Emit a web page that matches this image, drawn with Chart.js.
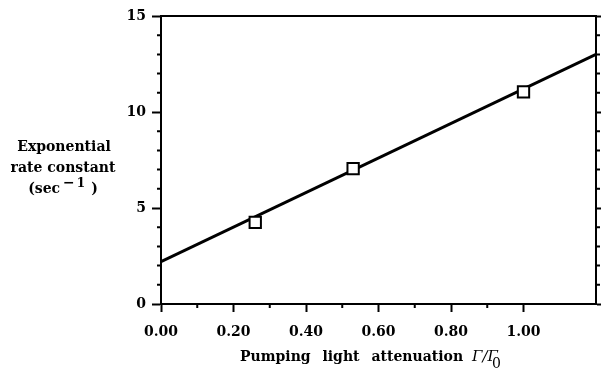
<!DOCTYPE html>
<html>
<head>
<meta charset="utf-8">
<script src="https://cdn.jsdelivr.net/npm/chart.js@4.4.1/dist/chart.umd.min.js"></script>
<style>
  html, body { margin: 0; padding: 0; background: #fff; }
</style>
</head>
<body>
<canvas id="myChart" width="606" height="369"></canvas>
<script>
// measured points
const attenuation = [0.26, 0.53, 1.00];
const rateConst = [4.25, 7.05, 11.05];
// fitted straight line, read at both ends of the plot
const fitX = [0, 1.2];
const fitY = [2.2, 13.0];
// tick labels
const xLabels = ['0.00', '0.20', '0.40', '0.60', '0.80', '1.00'];
const yLabels = ['0', '5', '10', '15'];

const serif = '"DejaVu Serif", serif';
const tickFont = { family: serif, size: 14, weight: 'bold' };

function xMajor(v) { return Math.round(v * 10) % 2 === 0; }
function yMajor(v) { return Math.round(v) % 5 === 0; }

// short ticks between the labelled ones
const minorTicks = {
  id: 'minorTicks',
  afterDraw(chart) {
    const ctx = chart.ctx;
    const a = chart.chartArea;
    ctx.save();
    ctx.strokeStyle = '#000';
    ctx.lineWidth = 2;
    ctx.beginPath();
    chart.scales.x.ticks.forEach(t => {
      if (xMajor(t.value)) return;
      const px = chart.scales.x.getPixelForValue(t.value);
      ctx.moveTo(px, a.bottom); ctx.lineTo(px, a.bottom + 4);
    });
    chart.scales.y.ticks.forEach(t => {
      if (yMajor(t.value)) return;
      const py = chart.scales.y.getPixelForValue(t.value);
      ctx.moveTo(a.left, py); ctx.lineTo(a.left - 4, py);
      ctx.moveTo(a.right, py); ctx.lineTo(a.right + 4, py);
    });
    ctx.stroke();
    ctx.restore();
  }
};

// axis titles, set horizontally as in the figure
const axisText = {
  id: 'axisText',
  afterDraw(chart) {
    const c = chart.ctx;
    c.save();
    c.fillStyle = '#000';
    c.textBaseline = 'alphabetic';
    c.font = 'bold 14px ' + serif;
    c.textAlign = 'center';
    c.fillText('Exponential', 64, 151);
    c.fillText('rate constant', 63, 172);

    // (sec -1 ) with raised exponent
    c.textAlign = 'left';
    const big = 'bold 14px ' + serif, small = 'bold 12px ' + serif;
    c.font = big;
    const w1 = c.measureText('(sec').width;
    const w2 = c.measureText('\u2212').width;
    const w4 = c.measureText(')').width;
    c.font = small;
    const w3 = c.measureText('1').width;
    let x = 63 - (w1 + 3 + w2 + 2 + w3 + 6 + w4) / 2;
    c.font = big;
    c.fillText('(sec', x, 193); x += w1 + 3;
    c.fillText('\u2212', x, 187); x += w2 + 2;
    c.font = small;
    c.fillText('1', x, 187); x += w3 + 6;
    c.font = big;
    c.fillText(')', x, 193);

    c.font = 'bold 14px ' + serif;
    c.wordSpacing = '7px';
    c.fillText('Pumping light attenuation', 240, 361);
    c.wordSpacing = '0px';
    c.font = 'italic 15px ' + serif;
    c.fillText('\u0393/\u0393', 472, 361);
    c.font = '14px ' + serif;
    c.fillText('0', 492, 368);
    c.restore();
  }
};

new Chart(document.getElementById('myChart'), {
  type: 'scatter',
  data: {
    datasets: [
      {
        label: 'measured',
        data: attenuation.map((x, i) => ({ x: x, y: rateConst[i] })),
        pointStyle: 'rect',
        pointRadius: 8,
        borderWidth: 2,
        borderColor: '#000',
        backgroundColor: '#fff'
      },
      {
        label: 'fit',
        data: fitX.map((x, i) => ({ x: x, y: fitY[i] })),
        showLine: true,
        pointRadius: 0,
        borderWidth: 3,
        borderColor: '#000'
      }
    ]
  },
  options: {
    responsive: false,
    animation: false,
    events: [],
    layout: { padding: 0 },
    plugins: { legend: { display: false }, tooltip: { enabled: false } },
    scales: {
      x: {
        type: 'linear', position: 'bottom', min: 0, max: 1.2,
        afterBuildTicks: s => { s.ticks = s.ticks.filter(t => t.value <= 1.0001); },
        afterFit: s => { s.height = 65; },
        ticks: {
          stepSize: 0.1, autoSkip: false, maxRotation: 0, padding: 12,
          color: '#000', font: tickFont,
          callback: v => xMajor(v) ? xLabels[Math.round(v * 5)] : ''
        },
        grid: {
          drawOnChartArea: false, tickLength: 8, tickWidth: 2,
          tickColor: c => (c.tick && xMajor(c.tick.value)) ? '#000' : 'rgba(0,0,0,0)'
        },
        border: { color: '#000', width: 2 }
      },
      x2: {
        type: 'linear', position: 'top', min: 0, max: 1.2,
        afterFit: s => { s.height = 16; },
        ticks: { display: false },
        grid: { display: false },
        border: { color: '#000', width: 2 }
      },
      y: {
        type: 'linear', position: 'left', min: 0, max: 15,
        afterFit: s => { s.width = 161; },
        ticks: {
          stepSize: 1, autoSkip: false, padding: 6,
          color: '#000', font: tickFont,
          callback: v => yMajor(v) ? yLabels[Math.round(v / 5)] : ''
        },
        grid: {
          drawOnChartArea: false, tickLength: 9, tickWidth: 2,
          tickColor: c => (c.tick && yMajor(c.tick.value)) ? '#000' : 'rgba(0,0,0,0)'
        },
        border: { color: '#000', width: 2 }
      },
      y2: {
        type: 'linear', position: 'right', min: 0, max: 15,
        afterFit: s => { s.width = 7; },
        ticks: { display: false, stepSize: 1 },
        grid: {
          drawOnChartArea: false, tickLength: 5, tickWidth: 2,
          tickColor: c => (c.tick && yMajor(c.tick.value)) ? '#000' : 'rgba(0,0,0,0)'
        },
        border: { color: '#000', width: 2 }
      }
    }
  },
  plugins: [minorTicks, axisText]
});
</script>
</body>
</html>
